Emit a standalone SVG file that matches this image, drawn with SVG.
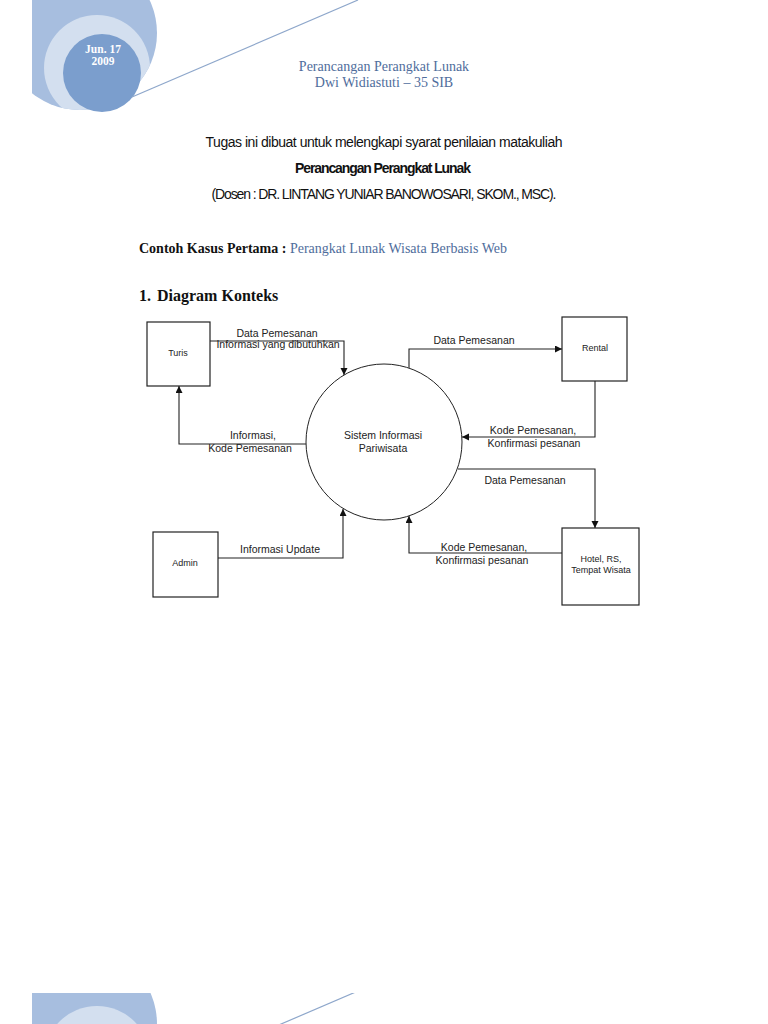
<svg xmlns="http://www.w3.org/2000/svg" width="768" height="1024" viewBox="0 0 768 1024">
<style>
.hdr{font-family:"Liberation Serif","Times New Roman",serif;font-size:14px;fill:#4f6d9c;text-anchor:middle}
.badge{font-family:"Liberation Serif","Times New Roman",serif;font-size:11.5px;font-weight:bold;fill:#ffffff;text-anchor:middle}
.narrow{font-family:"Liberation Sans Narrow","Liberation Sans",Arial,sans-serif;font-size:14px;fill:#111;text-anchor:middle}
.ser{font-family:"Liberation Serif","Times New Roman",serif;fill:#111}
.lbl{font-family:"Liberation Sans",Arial,sans-serif;font-size:10.5px;fill:#222;text-anchor:middle}
.box{fill:#fff;stroke:#222;stroke-width:1.2}
.bl{font-family:"Liberation Sans",Arial,sans-serif;font-size:9px;fill:#222;text-anchor:middle}
.conn{fill:none;stroke:#222;stroke-width:1.1}
</style>
<defs>
<marker id="arr" markerUnits="userSpaceOnUse" markerWidth="8" markerHeight="8" refX="7" refY="3.5" orient="auto">
<path d="M0,0 L7,3.5 L0,7 z" fill="#111"/>
</marker>
<clipPath id="clipTop"><rect x="32" y="0" width="400" height="130"/></clipPath>
<clipPath id="clipBot"><rect x="32" y="993" width="400" height="31"/></clipPath>
<clipPath id="clipOuter"><circle cx="80" cy="33" r="77"/></clipPath>
<g id="badgeArt">
<circle cx="80" cy="33" r="77" fill="#a7bedf"/>
<circle cx="97" cy="68" r="53" fill="#d3dfef" clip-path="url(#clipOuter)"/>
<circle cx="102" cy="73" r="39" fill="#7b9ecd"/>
<line x1="132" y1="97" x2="358" y2="0" stroke="#8ea7cb" stroke-width="1.2"/>
</g>
</defs>
<rect width="768" height="1024" fill="#fff"/>
<g id="header">
<g clip-path="url(#clipTop)"><use href="#badgeArt"/></g>
<text class="badge" x="103" y="53">Jun. 17</text>
<text class="badge" x="103" y="65">2009</text>
<text class="hdr" x="384" y="71">Perancangan Perangkat Lunak</text>
<text class="hdr" x="384" y="87">Dwi Widiastuti – 35 SIB</text>
</g>
<g id="footer">
<g clip-path="url(#clipBot)"><use href="#badgeArt" transform="translate(0,991)"/></g>
</g>
<g id="intro">
<text class="narrow" x="384" y="147" textLength="357" lengthAdjust="spacing">Tugas ini dibuat untuk melengkapi syarat penilaian matakuliah</text>
<text class="narrow" x="383" y="173" font-weight="bold" textLength="176" lengthAdjust="spacing">Perancangan Perangkat Lunak</text>
<text class="narrow" x="384" y="199" textLength="345" lengthAdjust="spacing">(Dosen : DR. LINTANG YUNIAR BANOWOSARI, SKOM., MSC).</text>
<text class="ser" x="139" y="253" font-size="14"><tspan font-weight="bold">Contoh Kasus Pertama : </tspan><tspan fill="#4f6d9c">Perangkat Lunak Wisata Berbasis Web</tspan></text>
<text class="ser" x="139" y="301" font-size="16" font-weight="bold">1.</text>
<text class="ser" x="157" y="301" font-size="16" font-weight="bold">Diagram Konteks</text>
</g>
<g id="connectors">
<path class="conn" d="M210,341 H344 V375" marker-end="url(#arr)"/>
<path class="conn" d="M306,444 H179 V386" marker-end="url(#arr)"/>
<path class="conn" d="M409,368 V349 H562" marker-end="url(#arr)"/>
<path class="conn" d="M595,381 V437 H462" marker-end="url(#arr)"/>
<path class="conn" d="M458,469 H595 V528" marker-end="url(#arr)"/>
<path class="conn" d="M562,553 H409 V516" marker-end="url(#arr)"/>
<path class="conn" d="M218,558 H343 V509" marker-end="url(#arr)"/>
<text class="lbl" x="277" y="337">Data Pemesanan</text>
<text class="lbl" x="278" y="348">Informasi yang dibutuhkan</text>
<text class="lbl" x="253" y="439">Informasi,</text>
<text class="lbl" x="250" y="452">Kode Pemesanan</text>
<text class="lbl" x="474" y="344">Data Pemesanan</text>
<text class="lbl" x="533" y="434">Kode Pemesanan,</text>
<text class="lbl" x="534" y="447">Konfirmasi pesanan</text>
<text class="lbl" x="525" y="484">Data Pemesanan</text>
<text class="lbl" x="484" y="551">Kode Pemesanan,</text>
<text class="lbl" x="482" y="564">Konfirmasi pesanan</text>
<text class="lbl" x="280" y="553">Informasi Update</text>
</g>
<g id="turis">
<rect class="box" x="147" y="322" width="63" height="64"/>
<text class="bl" x="178" y="356">Turis</text>
</g>
<g id="sistem">
<circle cx="384" cy="442" r="78" fill="#fff" stroke="#222" stroke-width="1"/>
<text class="lbl" x="383" y="439">Sistem Informasi</text>
<text class="lbl" x="383" y="452">Pariwisata</text>
</g>
<g id="rental">
<rect class="box" x="562" y="317" width="65" height="64"/>
<text class="bl" x="595" y="351">Rental</text>
</g>
<g id="hotel">
<rect class="box" x="562" y="528" width="77" height="77"/>
<text class="bl" x="601" y="562">Hotel, RS,</text>
<text class="bl" x="601" y="573">Tempat Wisata</text>
</g>
<g id="admin">
<rect class="box" x="153" y="532" width="65" height="65"/>
<text class="bl" x="185" y="566">Admin</text>
</g>
</svg>
